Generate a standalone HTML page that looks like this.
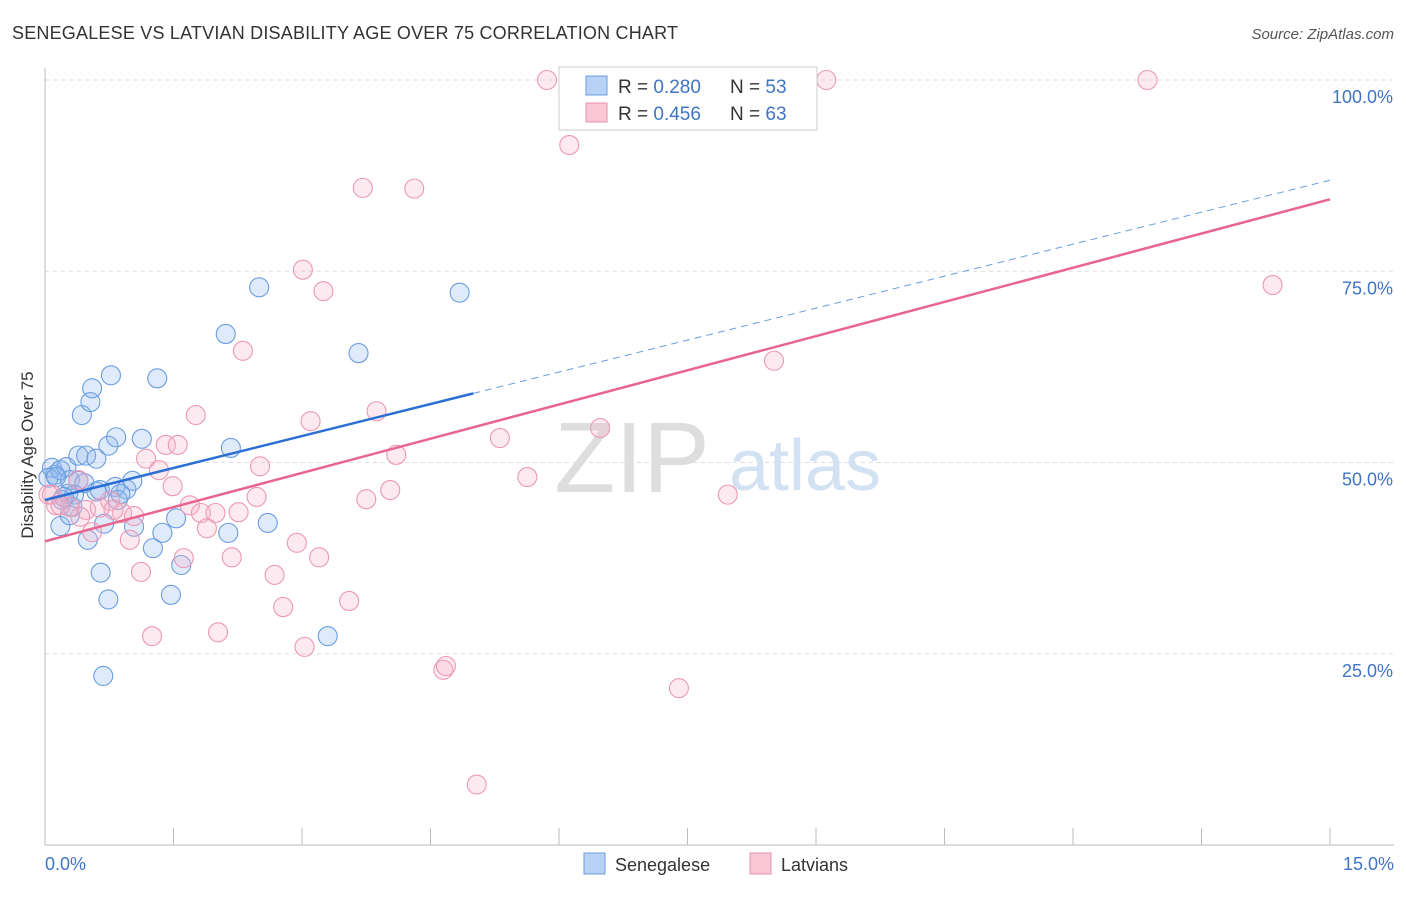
<!DOCTYPE html>
<html><head><meta charset="utf-8"><style>
body{margin:0;background:#fff;font-family:"Liberation Sans",sans-serif}
svg text{font-family:"Liberation Sans",sans-serif}
</style></head><body>
<svg width="1406" height="892">
<text x="12" y="39" font-size="18" fill="#333" textLength="666">SENEGALESE VS LATVIAN DISABILITY AGE OVER 75 CORRELATION CHART</text>
<text x="1394" y="39" font-size="15" fill="#555" font-style="italic" text-anchor="end">Source: ZipAtlas.com</text>
<g id="grid"></g>
<text x="632" y="492" font-size="100" fill="#dedede" font-family="Liberation Serif" text-anchor="middle">ZIP</text>
<text x="805" y="490" font-size="72" fill="#d3e2f3" text-anchor="middle">atlas</text>
<g id="pts"></g>
<g id="lines"></g>
<text x="33" y="455" font-size="17" fill="#333" text-anchor="middle" transform="rotate(-90 33 455)">Disability Age Over 75</text>
<text x="45" y="870" font-size="18" fill="#3f74c6">0.0%</text>
<text x="1394" y="870" font-size="18" fill="#3f74c6" text-anchor="end">15.0%</text>
<g>
<rect x="559" y="67" width="258" height="63" fill="#fff" stroke="#ccc"/>
<rect x="586" y="76" width="21" height="19" fill="#b7d2f5" stroke="#6a9de0"/>
<rect x="586" y="103" width="21" height="19" fill="#f9c7d6" stroke="#e890ac"/>
<text x="618" y="93" font-size="19" fill="#333">R = <tspan fill="#3f74c6">0.280</tspan></text>
<text x="730" y="93" font-size="19" fill="#333">N = <tspan fill="#3f74c6">53</tspan></text>
<text x="618" y="120" font-size="19" fill="#333">R = <tspan fill="#3f74c6">0.456</tspan></text>
<text x="730" y="120" font-size="19" fill="#333">N = <tspan fill="#3f74c6">63</tspan></text>
</g>
<g>
<rect x="584" y="853" width="21" height="21" fill="#b7d2f5" stroke="#6a9de0"/>
<text x="615" y="871" font-size="18" fill="#333">Senegalese</text>
<rect x="750" y="853" width="21" height="21" fill="#f9c7d6" stroke="#e890ac"/>
<text x="781" y="871" font-size="18" fill="#333">Latvians</text>
</g>
</svg>
<script>
const yTicks=[25,50,75,100];
const xTicks=[0,1.5,3,4.5,6,7.5,9,10.5,12,13.5,15];
const blueX=[0.08,0.12,0.04,0.18,0.25,0.29,0.2,0.27,0.32,0.18,0.29,0.39,0.48,0.6,0.39,0.46,0.6,0.64,0.74,0.83,0.43,0.53,0.55,0.77,1.31,1.13,0.82,0.95,1.02,0.85,0.69,1.04,0.5,1.26,1.37,1.53,1.59,1.47,0.65,0.74,0.68,2.11,2.5,4.84,3.66,2.17,2.14,2.6,3.3,0.34,0.13,0.22,0.88];
const blueY=[49.3,48.4,48.0,49.0,49.4,47.7,45.1,45.9,44.2,41.7,43.1,50.9,50.9,50.5,47.6,47.3,46.2,46.4,52.2,53.3,56.2,57.9,59.7,61.4,61.0,53.1,46.8,46.5,47.6,45.1,42.0,41.6,39.9,38.8,40.8,42.7,36.6,32.7,35.6,32.1,22.1,66.8,72.9,72.2,64.3,51.9,40.8,42.1,27.3,45.8,48.1,45.5,45.9];
const pinkX=[5.86,9.12,12.87,6.12,3.71,4.31,3.01,3.25,14.33,2.31,8.51,1.76,3.1,3.87,5.31,6.48,1.41,1.55,1.18,1.33,4.1,2.51,5.63,1.49,2.47,3.75,4.03,7.97,1.69,1.82,1.99,2.26,0.76,0.9,1.04,1.89,0.48,0.64,0.08,0.13,0.29,0.99,0.55,2.94,3.2,2.18,1.62,1.12,2.68,3.55,2.78,1.25,2.02,3.03,4.65,4.68,7.4,5.04,0.18,0.41,0.8,0.39,0.04];
const pinkY=[100,100,100,91.5,85.9,85.8,75.2,72.4,73.2,64.6,63.3,56.2,55.4,56.7,53.2,54.5,52.3,52.3,50.5,49.0,51.0,49.5,48.1,46.9,45.5,45.2,46.4,45.8,44.4,43.4,43.4,43.5,45.0,43.4,43.0,41.4,43.8,44.1,45.8,44.4,44.2,39.9,40.9,39.5,37.6,37.6,37.5,35.7,35.3,31.9,31.1,27.3,27.8,25.9,22.9,23.4,20.5,7.9,44.4,42.9,43.8,47.7,45.8];
const blueTrend=[45.1,86.9];
const pinkTrend=[39.7,84.4];
const X=v=>45+v/15*1285, Y=v=>845-v/100*765;
const NS="http://www.w3.org/2000/svg";
function mk(p,t,a){const e=document.createElementNS(NS,t);for(const k in a)e.setAttribute(k,a[k]);p.appendChild(e);return e;}
const g=document.getElementById('grid');
yTicks.forEach(t=>{
 const l=mk(g,'line',{x1:45,x2:1394,y1:Y(t),y2:Y(t),stroke:'#ddd','stroke-dasharray':'4 4'});
 
 
 const tx=mk(g,'text',{x:1393,y:Y(t)+23,'font-size':18,fill:'#3f74c6','text-anchor':'end'});
 tx.textContent=t.toFixed(1)+'%';
 
 
});
mk(g,'line',{x1:45,x2:45,y1:68,y2:845,stroke:'#bbb'});
mk(g,'line',{x1:45,x2:1394,y1:845,y2:845,stroke:'#bbb'});
xTicks.forEach(t=>{
 const l=mk(g,'line',{x1:X(t),x2:X(t),y1:828,y2:845,stroke:'#bbb'});
 
 
});
const P=document.getElementById('pts');
blueX.forEach((v,i)=>{
 const c=mk(P,'circle',{cx:X(v),cy:Y(blueY[i]),r:9.5,fill:'rgba(140,182,238,0.28)',stroke:'#6a9de0','stroke-width':1.1});
 
 
});
pinkX.forEach((v,i)=>{
 const c=mk(P,'circle',{cx:X(v),cy:Y(pinkY[i]),r:9.5,fill:'rgba(246,178,200,0.28)',stroke:'#ec98b4','stroke-width':1.1});
 
 
});
const L=document.getElementById('lines');
const bAt=x=>blueTrend[0]+(blueTrend[1]-blueTrend[0])*x/15;
const pAt=x=>pinkTrend[0]+(pinkTrend[1]-pinkTrend[0])*x/15;
let l1=mk(L,'line',{x1:X(0),y1:Y(bAt(0)),x2:X(5),y2:Y(bAt(5)),stroke:'#2a6fd6','stroke-width':2.5});


let l2=mk(L,'line',{x1:X(5),y1:Y(bAt(5)),x2:X(15),y2:Y(bAt(15)),stroke:'#6a9de0','stroke-width':1,'stroke-dasharray':'7 5'});


let l3=mk(L,'line',{x1:X(0),y1:Y(pAt(0)),x2:X(15),y2:Y(pAt(15)),stroke:'#e8658e','stroke-width':2.5});


</script>
</body></html>
